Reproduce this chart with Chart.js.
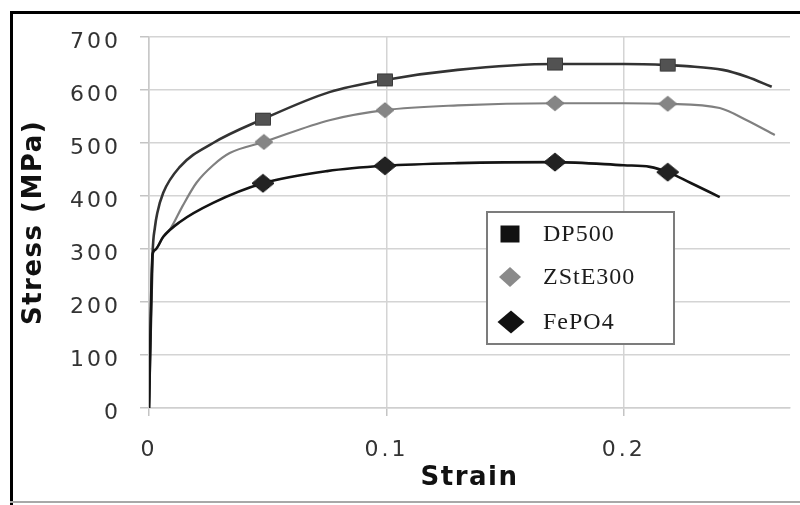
<!DOCTYPE html>
<html><head><meta charset="utf-8">
<script src="https://cdn.jsdelivr.net/npm/chart.js@4.4.0/dist/chart.umd.min.js"></script>
<style>html,body{margin:0;padding:0;background:#fff;}</style>
</head><body>
<canvas id="c" width="800" height="505"></canvas>
<script>
// ---- data ----
const seriesNames = ['DP500', 'ZStE300', 'FePO4'];

const dp500Strain = [0, 0.0015, 0.0025, 0.0035, 0.006, 0.013, 0.027, 0.048, 0.076, 0.0994, 0.13, 0.171, 0.2, 0.2185, 0.2265, 0.2417, 0.2518, 0.2623];
const dp500Stress = [0, 290, 341, 368, 406, 455, 500, 545, 596, 619, 638, 649, 649, 647, 645, 638, 625, 606];

const zste300Strain = [0, 0.0015, 0.0025, 0.006, 0.009, 0.014, 0.020, 0.027, 0.034, 0.0484, 0.076, 0.0994, 0.13, 0.171, 0.2, 0.2185, 0.2404, 0.2518, 0.2636];
const zste300Stress = [0, 290, 298, 323, 338, 380, 425, 458, 481, 502, 543, 562, 571, 575, 575, 574, 566, 543, 515];

const fepo4Strain = [0, 0.0015, 0.0025, 0.006, 0.013, 0.027, 0.048, 0.075, 0.0994, 0.13, 0.171, 0.2, 0.211, 0.2185, 0.228, 0.2404];
const fepo4Stress = [0, 290, 298, 323, 351, 387, 424, 447, 457, 462, 464, 458, 455, 445, 425, 398];

// marker points
const dp500MarkStrain = [0.048, 0.0994, 0.171, 0.2185];
const dp500MarkStress = [545, 619, 649, 647];
const zste300MarkStrain = [0.0484, 0.0994, 0.171, 0.2185];
const zste300MarkStress = [502, 562, 575, 574];
const fepo4MarkStrain = [0.048, 0.0994, 0.171, 0.2185];
const fepo4MarkStress = [424, 457, 464, 445];

const xTickLabels = ['0', '0.1', '0.2'];

// ---- helpers ----
const zip = (xs, ys) => xs.map((x, i) => ({x: x, y: ys[i]}));

function makeMarker(shape, w, h, fill, stroke) {
  const c = document.createElement('canvas');
  c.width = w + 2; c.height = h + 2;
  const g = c.getContext('2d');
  g.fillStyle = fill; g.strokeStyle = stroke; g.lineWidth = 1;
  g.beginPath();
  if (shape === 'square') {
    g.rect(1.5, 1.5, w - 1, h - 1);
  } else {
    g.moveTo(1 + w / 2, 1); g.lineTo(1 + w, 1 + h / 2);
    g.lineTo(1 + w / 2, 1 + h); g.lineTo(1, 1 + h / 2); g.closePath();
  }
  g.fill(); g.stroke();
  return c;
}

const mkDP = makeMarker('square', 16, 13, '#525252', '#3a3a3a');
const mkZS = makeMarker('diamond', 18, 15, '#858585', '#7a7a7a');
const mkFE = makeMarker('diamond', 22, 18, '#222222', '#161616');

const framePlugin = {
  id: 'frame',
  beforeDraw(chart) {
    const ctx = chart.ctx;
    ctx.save();
    ctx.fillStyle = '#ffffff';
    ctx.fillRect(0, 0, chart.width, chart.height);
    ctx.fillStyle = '#000000';
    ctx.fillRect(10, 11, 790, 3);
    ctx.fillRect(10, 11, 3, 494);
    ctx.fillStyle = '#a8a8a8';
    ctx.fillRect(10, 501, 790, 2);
    ctx.restore();
    ctx.letterSpacing = '1.5px';   // axis titles
  },
  beforeDatasetsDraw(chart) {
    chart.ctx.letterSpacing = '3px'; // tick labels (drawn after datasets)
  },
  afterDraw(chart) {
    const ctx = chart.ctx;
    ctx.letterSpacing = '0px';
    ctx.save();
    // legend box
    ctx.fillStyle = '#ffffff';
    ctx.fillRect(487, 212, 187, 132);
    ctx.strokeStyle = '#7c7c7c';
    ctx.lineWidth = 2;
    ctx.strokeRect(487, 212, 187, 132);
    const rows = [
      {label: chart.data.datasets[3].label, shape: 'square', w: 19, h: 17, fill: '#111111', cx: 510, cy: 234},
      {label: chart.data.datasets[4].label, shape: 'diamond', w: 22, h: 20, fill: '#8a8a8a', cx: 510, cy: 277},
      {label: chart.data.datasets[5].label, shape: 'diamond', w: 27, h: 23, fill: '#111111', cx: 511, cy: 322}
    ];
    rows.forEach(r => {
      ctx.fillStyle = r.fill;
      ctx.beginPath();
      if (r.shape === 'square') {
        ctx.rect(r.cx - r.w / 2, r.cy - r.h / 2, r.w, r.h);
      } else {
        ctx.moveTo(r.cx, r.cy - r.h / 2); ctx.lineTo(r.cx + r.w / 2, r.cy);
        ctx.lineTo(r.cx, r.cy + r.h / 2); ctx.lineTo(r.cx - r.w / 2, r.cy); ctx.closePath();
      }
      ctx.fill();
      ctx.fillStyle = '#1c1c1c';
      ctx.font = '24px "Liberation Serif", "Times New Roman", serif';
      ctx.letterSpacing = '1px';
      ctx.textBaseline = 'middle';
      ctx.textAlign = 'left';
      ctx.fillText(r.label, 543, r.cy + 1);
      ctx.letterSpacing = '0px';
    });
    ctx.restore();
  }
};

const lineBase = {
  pointRadius: 0, pointHoverRadius: 0, fill: false,
  cubicInterpolationMode: 'monotone', showLine: true
};
const markBase = {showLine: false, pointRadius: 8, pointHoverRadius: 8, order: 0};

new Chart(document.getElementById('c'), {
  type: 'scatter',
  data: {
    datasets: [
      Object.assign({}, markBase, {label: seriesNames[0] + ' markers', data: zip(dp500MarkStrain, dp500MarkStress), pointStyle: mkDP}),
      Object.assign({}, markBase, {label: seriesNames[1] + ' markers', data: zip(zste300MarkStrain, zste300MarkStress), pointStyle: mkZS}),
      Object.assign({}, markBase, {label: seriesNames[2] + ' markers', data: zip(fepo4MarkStrain, fepo4MarkStress), pointStyle: mkFE}),
      Object.assign({}, lineBase, {label: seriesNames[0], data: zip(dp500Strain, dp500Stress), borderColor: '#333333', borderWidth: 2.6, order: 2}),
      Object.assign({}, lineBase, {label: seriesNames[1], data: zip(zste300Strain, zste300Stress), borderColor: '#808080', borderWidth: 2.2, order: 3}),
      Object.assign({}, lineBase, {label: seriesNames[2], data: zip(fepo4Strain, fepo4Stress), borderColor: '#141414', borderWidth: 2.6, order: 1})
    ]
  },
  options: {
    responsive: false,
    animation: false,
    devicePixelRatio: 1,
    layout: {padding: {left: 0, top: 37, right: 10, bottom: 0}},
    plugins: {legend: {display: false}, tooltip: {enabled: false}},
    scales: {
      x: {
        type: 'linear', min: 0, max: 0.27,
        afterFit(s) { s.height = 97; },
        grid: {color: '#d4d4d4', lineWidth: 1.5, tickColor: '#c4c4c4', tickLength: 8},
        border: {color: '#cfcfcf', width: 1.5},
        ticks: {
          stepSize: 0.1, includeBounds: false, autoSkip: false, maxRotation: 0, z: 1,
          padding: 21, color: '#333333',
          font: {family: 'DejaVu Sans', size: 22},
          callback: (v, i) => xTickLabels[i]
        },
        title: {display: true, text: 'Strain', color: '#111111',
          font: {family: 'DejaVu Sans', weight: 'bold', size: 26}, padding: {top: 0, bottom: 11}}
      },
      y: {
        min: 0, max: 700,
        afterFit(s) { s.width = 149; },
        grid: {color: '#d4d4d4', lineWidth: 1.5, tickColor: '#c4c4c4', tickLength: 9},
        border: {color: '#c8c8c8', width: 1.5},
        ticks: {
          stepSize: 100, z: 1, padding: 19, labelOffset: 5, color: '#333333',
          font: {family: 'DejaVu Sans', size: 22}
        },
        title: {display: true, text: 'Stress (MPa)', color: '#111111',
          font: {family: 'DejaVu Sans', weight: 'bold', size: 26}, padding: {top: 19, bottom: 0}}
      }
    }
  },
  plugins: [framePlugin]
});
</script>
</body></html>
